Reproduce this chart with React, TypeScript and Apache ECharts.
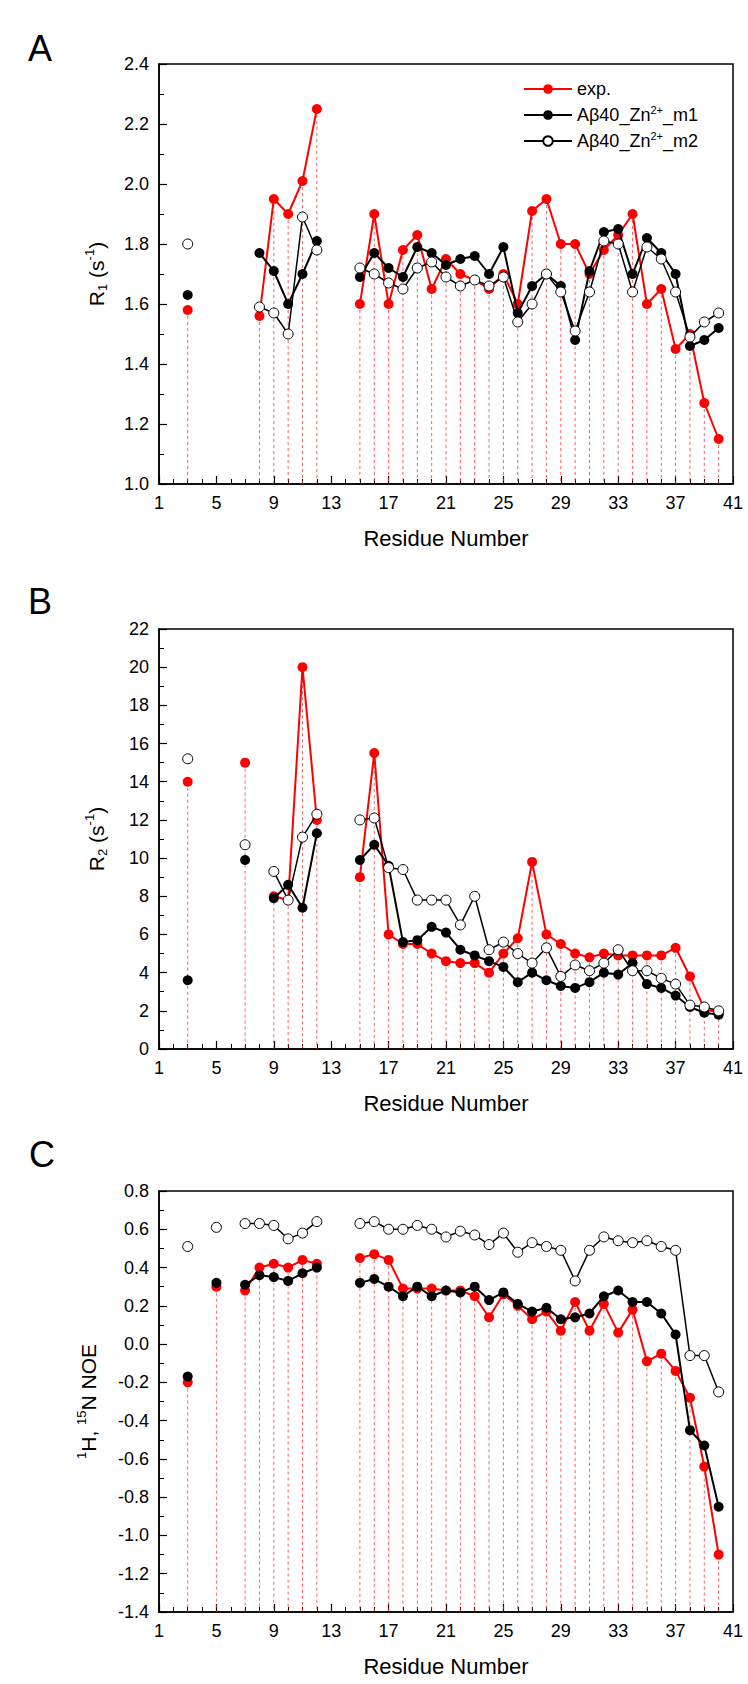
import React, { useEffect, useRef } from 'react';
import * as echarts from 'echarts';

// ---------- data ----------
const residuesA = [3, 8, 9, 10, 11, 12, 15, 16, 17, 18, 19, 20, 21, 22, 23, 24, 25, 26, 27, 28, 29, 30, 31, 32, 33, 34, 35, 36, 37, 38, 39, 40];
const expA = [1.58, 1.56, 1.95, 1.90, 2.01, 2.25, 1.60, 1.90, 1.60, 1.78, 1.83, 1.65, 1.75, 1.70, 1.68, 1.65, 1.70, 1.60, 1.91, 1.95, 1.80, 1.80, 1.70, 1.78, 1.83, 1.90, 1.60, 1.65, 1.45, 1.50, 1.27, 1.15];
const m1A = [1.63, 1.77, 1.71, 1.60, 1.70, 1.81, 1.69, 1.77, 1.72, 1.69, 1.79, 1.77, 1.73, 1.75, 1.76, 1.70, 1.79, 1.57, 1.66, 1.70, 1.66, 1.48, 1.71, 1.84, 1.85, 1.70, 1.82, 1.77, 1.70, 1.46, 1.48, 1.52];
const m2A = [1.80, 1.59, 1.57, 1.50, 1.89, 1.78, 1.72, 1.70, 1.67, 1.65, 1.72, 1.74, 1.69, 1.66, 1.68, 1.66, 1.69, 1.54, 1.60, 1.70, 1.64, 1.51, 1.64, 1.81, 1.80, 1.64, 1.79, 1.75, 1.64, 1.49, 1.54, 1.57];

const residuesB = [3, 7, 9, 10, 11, 12, 15, 16, 17, 18, 19, 20, 21, 22, 23, 24, 25, 26, 27, 28, 29, 30, 31, 32, 33, 34, 35, 36, 37, 38, 39, 40];
const expB = [14.0, 15.0, 8.0, 7.8, 20.0, 12.0, 9.0, 15.5, 6.0, 5.5, 5.5, 5.0, 4.6, 4.5, 4.5, 4.0, 5.0, 5.8, 9.8, 6.0, 5.5, 5.0, 4.8, 5.0, 4.9, 4.9, 4.9, 4.9, 5.3, 3.8, 2.1, 1.9];
const m1B = [3.6, 9.9, 7.9, 8.6, 7.4, 11.3, 9.9, 10.7, 9.6, 5.6, 5.7, 6.4, 6.1, 5.2, 4.9, 4.6, 4.3, 3.5, 4.0, 3.6, 3.3, 3.2, 3.5, 4.0, 3.9, 4.5, 3.4, 3.2, 2.8, 2.2, 1.9, 1.8];
const m2B = [15.2, 10.7, 9.3, 7.8, 11.1, 12.3, 12.0, 12.1, 9.5, 9.4, 7.8, 7.8, 7.8, 6.5, 8.0, 5.2, 5.6, 5.0, 4.5, 5.3, 3.8, 4.4, 4.1, 4.5, 5.2, 4.1, 4.1, 3.7, 3.4, 2.3, 2.2, 2.0];

const residuesC = [3, 5, 7, 8, 9, 10, 11, 12, 15, 16, 17, 18, 19, 20, 21, 22, 23, 24, 25, 26, 27, 28, 29, 30, 31, 32, 33, 34, 35, 36, 37, 38, 39, 40];
const expC = [-0.20, 0.30, 0.28, 0.40, 0.42, 0.40, 0.44, 0.42, 0.45, 0.47, 0.44, 0.29, 0.29, 0.29, 0.28, 0.28, 0.25, 0.14, 0.26, 0.20, 0.13, 0.17, 0.07, 0.22, 0.07, 0.21, 0.06, 0.18, -0.09, -0.05, -0.14, -0.28, -0.64, -1.10];
const m1C = [-0.17, 0.32, 0.31, 0.36, 0.35, 0.33, 0.37, 0.40, 0.32, 0.34, 0.30, 0.25, 0.30, 0.25, 0.28, 0.27, 0.30, 0.23, 0.27, 0.21, 0.17, 0.19, 0.13, 0.14, 0.16, 0.25, 0.28, 0.22, 0.22, 0.16, 0.05, -0.45, -0.53, -0.85];
const m2C = [0.51, 0.61, 0.63, 0.63, 0.62, 0.55, 0.58, 0.64, 0.63, 0.64, 0.60, 0.60, 0.62, 0.60, 0.56, 0.59, 0.57, 0.52, 0.58, 0.48, 0.53, 0.51, 0.49, 0.33, 0.49, 0.56, 0.54, 0.53, 0.54, 0.51, 0.49, -0.06, -0.06, -0.25];

const xTicks = { min: 1, max: 41, interval: 4 };
const seriesNames = ['exp.', 'Aβ40_Zn2+_m1', 'Aβ40_Zn2+_m2'];
const panelLetters = ['A', 'B', 'C'];
const yRanges = [
  { min: 1.0, max: 2.4, interval: 0.2, digits: 1 },
  { min: 0, max: 22, interval: 2, digits: 0 },
  { min: -1.4, max: 0.8, interval: 0.2, digits: 1 },
];
const yNames = [
  '{n|R}{sub|1}{n| (s}{sup|-1}{n|)}',
  '{n|R}{sub|2}{n| (s}{sup|-1}{n|)}',
  '{sup|1}{n|H, }{sup|15}{n|N NOE}',
];

// ---------- helpers ----------
function withGaps(res: number[], vals: number[]) {
  const out: any[] = [];
  for (let i = 0; i < res.length; i++) {
    if (i > 0 && res[i] - res[i - 1] > 1) out.push([res[i - 1] + 1, '-']);
    out.push([res[i], vals[i]]);
  }
  return out;
}

const FONT = 'Arial, "Liberation Sans", Helvetica, sans-serif';

export default function App() {
  const ref = useRef<HTMLDivElement>(null);

  useEffect(() => {
    if (!ref.current) return;
    const chart = echarts.init(ref.current, undefined, { renderer: 'svg' });

    const grids = [
      { left: 159, top: 64, width: 574, height: 420 },
      { left: 159, top: 629, width: 574, height: 420 },
      { left: 159, top: 1191, width: 574, height: 421 },
    ];
    const panels = [
      { res: residuesA, exp: expA, m1: m1A, m2: m2A },
      { res: residuesB, exp: expB, m1: m1B, m2: m2B },
      { res: residuesC, exp: expC, m1: m1C, m2: m2C },
    ];
    const nameGaps = [50, 50, 58];

    const series: any[] = [];
    panels.forEach((p, i) => {
      const yMin = yRanges[i].min;
      series.push({
        type: 'custom',
        xAxisIndex: i,
        yAxisIndex: i,
        silent: true,
        z: 1,
        encode: { x: 0, y: 1 },
        data: p.res.map((r, j) => [r, p.exp[j]]),
        renderItem: (params: any, api: any) => {
          const x = api.value(0);
          const y = api.value(1);
          const p1 = api.coord([x, y]);
          const p0 = api.coord([x, yMin]);
          return {
            type: 'line',
            shape: { x1: p1[0], y1: p1[1], x2: p0[0], y2: p0[1] },
            style: { stroke: 'rgba(255,40,40,0.75)', lineWidth: 1, lineDash: [3, 3] },
          };
        },
      });
      series.push({
        name: seriesNames[0],
        type: 'line',
        xAxisIndex: i,
        yAxisIndex: i,
        z: 3,
        data: withGaps(p.res, p.exp),
        symbol: 'circle',
        symbolSize: 10,
        showAllSymbol: true,
        connectNulls: false,
        itemStyle: { color: '#ff0000' },
        lineStyle: { color: '#ff0000', width: 2 },
      });
      series.push({
        name: seriesNames[1],
        type: 'line',
        xAxisIndex: i,
        yAxisIndex: i,
        z: 4,
        data: withGaps(p.res, p.m1),
        symbol: 'circle',
        symbolSize: 10,
        showAllSymbol: true,
        connectNulls: false,
        itemStyle: { color: '#000000' },
        lineStyle: { color: '#000000', width: 2 },
      });
      series.push({
        name: seriesNames[2],
        type: 'line',
        xAxisIndex: i,
        yAxisIndex: i,
        z: 5,
        data: withGaps(p.res, p.m2),
        symbol: 'circle',
        symbolSize: 10,
        showAllSymbol: true,
        connectNulls: false,
        itemStyle: { color: '#ffffff', borderColor: '#000000', borderWidth: 1 },
        lineStyle: { color: '#000000', width: 1.5 },
      });
    });

    const option: any = {
      animation: false,
      backgroundColor: '#ffffff',
      textStyle: { fontFamily: FONT },
      grid: grids.map((g) => ({ ...g, show: true, borderColor: '#000', borderWidth: 1.5, containLabel: false })),
      xAxis: grids.map((_, i) => ({
        type: 'value',
        gridIndex: i,
        min: xTicks.min,
        max: xTicks.max,
        interval: xTicks.interval,
        name: 'Residue Number',
        nameLocation: 'middle',
        nameGap: 43,
        nameTextStyle: { fontSize: 22, color: '#000', fontFamily: FONT },
        axisLine: { show: true, onZero: false, lineStyle: { color: '#000', width: 1.5 } },
        axisTick: { show: true, inside: true, length: 8, lineStyle: { color: '#000', width: 1.2 } },
        minorTick: { show: true, splitNumber: 4, length: 5, lineStyle: { color: '#000', width: 1 } },
        axisLabel: { fontSize: 18, color: '#000', margin: 10, fontFamily: FONT },
        splitLine: { show: false },
        minorSplitLine: { show: false },
      })),
      yAxis: grids.map((_, i) => ({
        type: 'value',
        gridIndex: i,
        min: yRanges[i].min,
        max: yRanges[i].max,
        interval: yRanges[i].interval,
        name: yNames[i],
        nameLocation: 'middle',
        nameGap: nameGaps[i],
        nameTextStyle: {
          fontSize: 21,
          color: '#000',
          fontFamily: FONT,
          rich: {
            n: { fontSize: 21, lineHeight: 26, fontFamily: FONT, color: '#000' },
            sup: { fontSize: 13, lineHeight: 12, verticalAlign: 'top', fontFamily: FONT, color: '#000' },
            sub: { fontSize: 13, lineHeight: 12, verticalAlign: 'bottom', fontFamily: FONT, color: '#000' },
          },
        },
        axisLine: { show: true, onZero: false, lineStyle: { color: '#000', width: 1.5 } },
        axisTick: { show: true, inside: true, length: 8, lineStyle: { color: '#000', width: 1.2 } },
        minorTick: { show: true, splitNumber: 2, length: 5, lineStyle: { color: '#000', width: 1 } },
        axisLabel: {
          fontSize: 18,
          color: '#000',
          margin: 10,
          fontFamily: FONT,
          formatter: (v: number) => v.toFixed(yRanges[i].digits),
        },
        splitLine: { show: false },
        minorSplitLine: { show: false },
      })),
      legend: {
        orient: 'vertical',
        left: 518,
        top: 75,
        itemWidth: 48,
        itemHeight: 12,
        itemGap: 6,
        data: seriesNames,
        formatter: (name: string) => {
          if (name === 'exp.') return '{n|exp.}';
          const suffix = name.endsWith('m1') ? '_m1' : '_m2';
          return '{n|Aβ40_Zn}{sup|2+}{n|' + suffix + '}';
        },
        textStyle: {
          fontSize: 18,
          color: '#000',
          fontFamily: FONT,
          rich: {
            n: { fontSize: 18, lineHeight: 22, fontFamily: FONT, color: '#000' },
            sup: { fontSize: 11, lineHeight: 10, verticalAlign: 'top', fontFamily: FONT, color: '#000' },
          },
        },
      },
      graphic: panelLetters.map((t, i) => ({
        type: 'text',
        left: [28, 28, 29][i],
        top: [30, 583, 1136][i],
        style: { text: t, fontSize: 36, fill: '#000', fontFamily: FONT },
      })),
      series,
    };

    chart.setOption(option);
    return () => chart.dispose();
  }, []);

  return (
    <div
      ref={ref}
      style={{ position: 'absolute', left: 0, top: 0, width: 748, height: 1684, background: '#fff' }}
    />
  );
}
